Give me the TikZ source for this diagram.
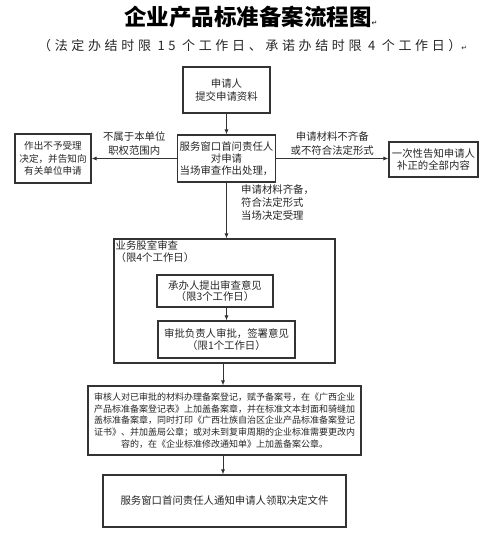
\documentclass[tikz,border=0pt]{standalone}
\usepackage{fontspec}
\setmainfont{Noto Sans CJK SC}
\newfontfamily\markfont{DejaVu Sans}
\newfontfamily\spacedfont[LetterSpace=28]{Noto Sans CJK SC}
\usetikzlibrary{arrows.meta}

\begin{document}
\begin{tikzpicture}[x=1pt,y=-1pt,
	box/.style={draw=black!80,line width=1.1pt,align=center,inner sep=0pt,
		font=\fontsize{10.4}{12.2}\selectfont,text=black!85},
	lbl/.style={align=center,inner sep=0pt,font=\fontsize{10.4}{13.5}\selectfont,text=black!85},
	line/.style={draw=black!80,line width=0.8pt},
	arr/.style={line,-{Latex[length=5pt,width=4pt]}}]
		\useasboundingbox (0,0) rectangle (500,535);
		% title
		\node[anchor=west,inner sep=0pt,font=\fontsize{22.5}{24}\selectfont\bfseries] (title) at (124,17) {企业产品标准备案流程图{\markfont\mdseries\fontsize{7}{7}\selectfont ↵}};
		\node[anchor=west,inner sep=0pt,font=\spacedfont\fontsize{13}{14}\selectfont,text=black!85] (subtitle) at (38,46) {（法定办结时限 15 个工作日、承诺办结时限 4 个工作日）{\markfont\fontsize{7}{7}\selectfont ↵}};
		% boxes
		\node[box,minimum width=87pt,minimum height=46pt] (apply) at (226.5,90) {申请人\\提交申请资料};
		\node[box,minimum width=98pt,minimum height=47pt] (window) at (226.5,158.5) {服务窗口首问责任人\\对申请\\当场审查作出处理，};
		\node[box,minimum width=76pt,minimum height=49pt,font=\fontsize{9.6}{12.6}\selectfont] (reject) at (53,158.5) {作出不予受理\\决定，并告知向\\有关单位申请};
		\node[box,minimum width=89pt,minimum height=35pt] (inform) at (433.5,159.5) {一次性告知申请人\\补正的全部内容};
		\node[box,minimum width=221pt,minimum height=124pt] (review) at (224.5,301) {};
		\node[lbl,anchor=north west,align=left,font=\fontsize{10.4}{12}\selectfont] (reviewtitle) at ([xshift=2pt,yshift=-2pt]review.north west) {业务股室审查\\（限4个工作日）};
		\node[box,minimum width=116pt,minimum height=32pt,font=\fontsize{10.4}{11.5}\selectfont] (handler) at (215,291) {承办人提出审查意见\\（限3个工作日）};
		\node[box,minimum width=137pt,minimum height=37pt,font=\fontsize{10.4}{11.5}\selectfont] (approver) at (226.5,339.5) {审批负责人审批，签署意见\\（限1个工作日）};
		\node[box,minimum width=273pt,minimum height=69pt,font=\fontsize{9}{11.6}\selectfont] (record) at (224.5,420.5) {审核人对已审批的材料办理备案登记，赋予备案号，在《广西企业\\产品标准备案登记表》上加盖备案章，并在标准文本封面和骑缝加\\盖标准备案章，同时打印《广西壮族自治区企业产品标准备案登记\\证书》、并加盖局公章；或对未到复审周期的企业标准需要更改内\\容的，在《企业标准修改通知单》上加盖备案公章。};
		\node[box,minimum width=243pt,minimum height=52pt] (notice) at (224.5,501) {服务窗口首问责任人通知申请人领取决定文件};
		% connectors
		\draw[arr] (apply) -- (window);
		\draw[arr] (window.west) -- node[lbl,above=3pt] {不属于本单位\\职权范围内} (window.west -| reject.east);
		\draw[arr] (window.east) -- node[lbl,above=3pt] {申请材料不齐备\\或不符合法定形式} (window.east -| inform.west);
		\draw[arr] (window.south) -- (window.south |- review.north);
		\node[lbl,anchor=west,align=left,font=\fontsize{10.4}{13}\selectfont] (accept) at (241,203) {申请材料齐备，\\符合法定形式\\当场决定受理};
		\draw[arr] (handler.south -| approver.north) -- (approver.north);
		\draw[arr] (review.south -| 223,0) -- (record.north -| 223,0);
		\draw[arr] (record.south -| 223,0) -- (notice.north -| 223,0);
	\end{tikzpicture}
\end{document}
